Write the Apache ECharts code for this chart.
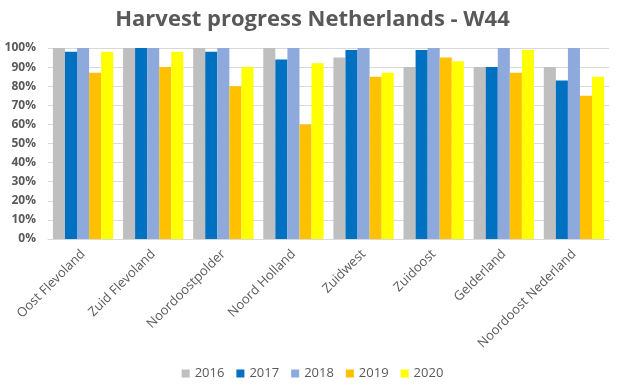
<!DOCTYPE html>
<html><head><meta charset="utf-8">
<script src="https://cdn.jsdelivr.net/npm/echarts@6/dist/echarts.min.js"></script>
<style>html,body{margin:0;padding:0;background:#fff}#c{width:625px;height:386px}</style>
</head><body><div id="c"></div>
<script>
const categories = ["Oost Flevoland","Zuid Flevoland","Noordoostpolder","Noord Holland","Zuidwest","Zuidoost","Gelderland","Noordoost Nederland"];
const years = ["2016","2017","2018","2019","2020"];
const v2016 = [100,100,100,100,95,90,90,90];
const v2017 = [98,100,98,94,99,99,90,83];
const v2018 = [100,100,100,100,100,100,100,100];
const v2019 = [87,90,80,60,85,95,87,75];
const v2020 = [98,98,90,92,87,93,99,85];
const colors = ["#BFBFBF","#0070C0","#8EA9DB","#FFC000","#FFFF00"];
const allVals = [v2016,v2017,v2018,v2019,v2020];

const chart = echarts.init(document.getElementById('c'));
chart.setOption({
  animation:false,
  color: colors,
  title:{text:"Harvest progress Netherlands - W44",left:'center',top:4,
    textStyle:{fontFamily:"Open Sans",fontWeight:'bold',fontSize:22,color:'#595959'}},
  legend:{bottom:1,left:'center',itemWidth:8,itemHeight:8,itemGap:12,icon:'rect',
    textStyle:{fontFamily:"Open Sans",fontSize:13,color:'#595959'},data:years},
  grid:{left:48,right:16,top:48,bottom:147},
  xAxis:{type:'category',data:categories,
    axisLine:{lineStyle:{color:'#D9D9D9'}},axisTick:{show:false},
    axisLabel:{rotate:45,interval:0,fontFamily:"Open Sans",fontSize:13,color:'#595959',margin:13}},
  yAxis:{type:'value',min:0,max:100,interval:10,
    axisLine:{show:false},axisTick:{show:false},
    splitLine:{lineStyle:{color:'#D9D9D9'}},
    axisLabel:{formatter:'{value}%',fontFamily:"Open Sans",fontSize:12,fontWeight:'bold',color:'#595959',margin:12}},
  series: years.map((y,i)=>({name:y,type:'bar',data:allVals[i],barGap:'0%',barCategoryGap:'14%'}))
});
</script></body></html>
